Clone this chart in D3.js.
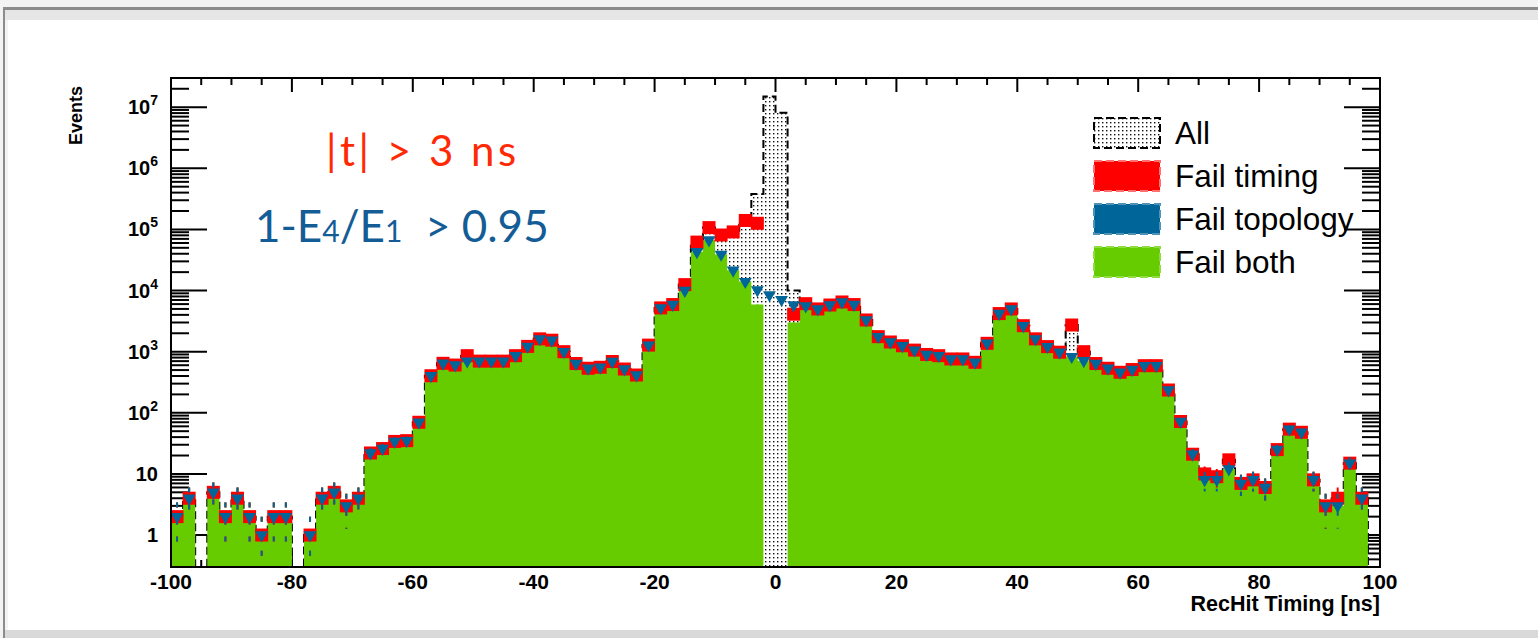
<!DOCTYPE html>
<html>
<head>
<meta charset="utf-8">
<script src="https://cdn.jsdelivr.net/npm/d3@7/dist/d3.min.js"></script>
<style>
    body { margin: 0; background: #ededed; }
    svg { display: block; }
</style>
</head>
<body>
<svg id="chart" width="1538" height="638"></svg>
<script>
// 2 ns bins, -100 .. 100 ns
const binLow = d3.range(-100, 100, 2);

const failTiming = [
    2, 4, 0, 5, 2, 4, 2, 1, 2, 2,
    0, 1, 4, 5, 3, 4, 22, 26, 34, 35,
    70, 404, 645, 604, 860, 700, 700, 700, 860, 1220,
    1620, 1540, 1000, 640, 535, 555, 690, 520, 415, 1280,
    5200, 5900, 12500, 62000, 107000, 81000, 91000, 140000, 126000, 0,
    0, 4100, 6100, 5000, 5800, 6500, 5900, 3300, 1760, 1440,
    1250, 1060, 900, 860, 760, 760, 670, 1370, 4200, 5000,
    2660, 1620, 1210, 980, 2730, 1000, 640, 535, 460, 510,
    590, 590, 236, 72, 21, 10, 9, 17, 7, 8,
    6, 25, 54, 48, 8, 3, 4, 15, 4, 0
];
const failTopology = [
    2, 4, 0, 5, 2, 4, 2, 1, 2, 2,
    0, 1, 4, 5, 3, 4, 22, 26, 34, 35,
    70, 404, 645, 604, 700, 700, 700, 700, 860, 1220,
    1620, 1540, 1000, 640, 535, 555, 690, 520, 415, 1280,
    5200, 5900, 10000, 43000, 67000, 39000, 21500, 14000, 10200, 8500,
    7100, 5800, 5600, 5000, 5800, 6500, 5900, 3300, 1760, 1440,
    1250, 1060, 900, 860, 760, 760, 670, 1370, 4200, 5000,
    2660, 1620, 1210, 980, 830, 710, 640, 535, 460, 510,
    590, 590, 236, 72, 21, 8, 8, 12, 7, 8,
    6, 25, 54, 48, 8, 3, 3, 15, 4, 0
];
const failBoth = [
    2, 4, 0, 5, 2, 4, 2, 1, 2, 2,
    0, 1, 4, 5, 3, 4, 22, 26, 34, 35,
    70, 404, 645, 604, 700, 700, 700, 700, 860, 1220,
    1620, 1540, 1000, 640, 535, 555, 690, 520, 415, 1280,
    5200, 5900, 10000, 43000, 67000, 39000, 21500, 14000, 5900, 0,
    0, 3000, 5600, 5000, 5800, 6500, 5900, 3300, 1760, 1440,
    1250, 1060, 900, 860, 760, 760, 670, 1370, 4200, 5000,
    2660, 1620, 1210, 980, 830, 710, 640, 535, 460, 510,
    590, 590, 236, 72, 21, 8, 8, 12, 7, 8,
    6, 25, 54, 48, 8, 3, 3, 15, 4, 0
];
const allHits = [
    2, 4, 0, 5, 2, 4, 2, 1, 2, 2,
    0, 1, 4, 5, 3, 4, 22, 26, 34, 35,
    70, 404, 645, 604, 860, 700, 700, 700, 860, 1220,
    1620, 1540, 1000, 640, 535, 555, 690, 520, 415, 1280,
    5200, 5900, 12500, 62000, 107000, 81000, 91000, 140000, 380000, 15000000,
    8100000, 10000, 6100, 5000, 5800, 6500, 5900, 3300, 1760, 1440,
    1250, 1060, 900, 860, 760, 760, 670, 1370, 4200, 5000,
    2660, 1620, 1210, 980, 2730, 1000, 640, 535, 460, 510,
    590, 590, 236, 72, 21, 10, 9, 17, 7, 8,
    6, 25, 54, 48, 8, 3, 4, 15, 4, 0
];

const xTickLabels = [-100, -80, -60, -40, -20, 0, 20, 40, 60, 80, 100];
const yTickExp = [0, 1, 2, 3, 4, 5, 6, 7];
const legendNames = ['All', 'Fail timing', 'Fail topology', 'Fail both'];

const RED = '#ff0000';
const BLUE = '#006699';
const GREEN = '#66cc00';

const svg = d3.select('#chart');

// window frame around the canvas
svg.append('rect').attr('x', 0).attr('y', 0).attr('width', 1538).attr('height', 638).attr('fill', '#f3f3f3');
svg.append('rect').attr('x', 3).attr('y', 7).attr('width', 1535).attr('height', 3).attr('fill', '#8c8c8c');
svg.append('rect').attr('x', 3).attr('y', 7).attr('width', 2).attr('height', 631).attr('fill', '#8c8c8c');
svg.append('rect').attr('x', 5).attr('y', 10).attr('width', 1533).attr('height', 10).attr('fill', '#e6e6e6');
svg.append('rect').attr('x', 5).attr('y', 630).attr('width', 1533).attr('height', 8).attr('fill', '#d9d9d9');
svg.append('rect').attr('x', 8).attr('y', 20).attr('width', 1530).attr('height', 610).attr('fill', '#ffffff');

const pLeft = 171, pRight = 1380, pTop = 78, pBottom = 567;

const x = d3.scaleLinear().domain([-100, 100]).range([pLeft, pRight]);
const y = d3.scaleLog().domain([0.3, 3e7]).range([pBottom, pTop]);

const defs = svg.append('defs');
const pat = defs.append('pattern')
    .attr('id', 'dots')
    .attr('width', 4)
    .attr('height', 4)
    .attr('patternUnits', 'userSpaceOnUse');
pat.append('rect').attr('width', 4).attr('height', 4).attr('fill', '#fff');
pat.append('rect').attr('x', 1).attr('y', 1).attr('width', 1.4).attr('height', 1.4).attr('fill', '#111');

defs.append('clipPath').attr('id', 'plotClip')
    .append('rect')
    .attr('x', pLeft).attr('y', pTop)
    .attr('width', pRight - pLeft).attr('height', pBottom - pTop);

// ---- ticks (drawn under the histograms, like ROOT)
const tickG = svg.append('g').attr('stroke', '#000').attr('stroke-width', 2);
const xMinor = d3.range(-100, 101, 5);
xMinor.forEach((t) => {
    const len = t % 20 === 0 ? 14 : 7;
    tickG.append('line').attr('x1', x(t)).attr('x2', x(t)).attr('y1', pBottom).attr('y2', pBottom - len);
    tickG.append('line').attr('x1', x(t)).attr('x2', x(t)).attr('y1', pTop).attr('y2', pTop + len);
});
const yMinor = [];
for (let e = -1; e <= 7; e++) {
    for (let m = 1; m <= 9; m++) {
        const v = m * Math.pow(10, e);
        if (v >= 0.3 && v <= 3e7) yMinor.push({ v: v, major: m === 1 });
    }
}
yMinor.forEach((d) => {
    const len = d.major ? 36 : 18;
    tickG.append('line').attr('x1', pLeft).attr('x2', pLeft + len).attr('y1', y(d.v)).attr('y2', y(d.v));
    tickG.append('line').attr('x1', pRight).attr('x2', pRight - len).attr('y1', y(d.v)).attr('y2', y(d.v));
});

// ---- histograms
const plot = svg.append('g').attr('clip-path', 'url(#plotClip)');

const stepPoints = (vals) => {
    const pts = [[-100, 0]];
    vals.forEach((v, i) => {
        pts.push([binLow[i], v]);
        pts.push([binLow[i] + 2, v]);
    });
    pts.push([100, 0]);
    return pts;
};
const yv = (v) => (v > 0 ? y(v) : pBottom + 2);

const area = d3.area()
    .x((d) => x(d[0]))
    .y0(pBottom + 2)
    .y1((d) => yv(d[1]));
const line = d3.line()
    .x((d) => x(d[0]))
    .y((d) => yv(d[1]));

plot.append('path')
    .attr('d', area(stepPoints(allHits)))
    .attr('fill', 'url(#dots)');
plot.append('path')
    .attr('d', line(stepPoints(allHits)))
    .attr('fill', 'none')
    .attr('stroke', '#000')
    .attr('stroke-width', 2)
    .attr('stroke-dasharray', '8,4');

plot.append('path')
    .attr('d', area(stepPoints(failBoth)))
    .attr('fill', GREEN);

const centres = binLow.map((b) => b + 1);

// poisson error bars, dashed
const errorBars = (vals, colour) => {
    plot.append('g')
        .selectAll('line')
        .data(vals.map((v, i) => ({ v: v, t: centres[i] })).filter((d) => d.v > 0))
        .join('line')
        .attr('x1', (d) => x(d.t))
        .attr('x2', (d) => x(d.t))
        .attr('y1', (d) => y(d.v + Math.sqrt(d.v)))
        .attr('y2', (d) => (d.v - Math.sqrt(d.v) > 0.3 ? y(d.v - Math.sqrt(d.v)) : pBottom))
        .attr('stroke', colour)
        .attr('stroke-width', 2)
        .attr('stroke-dasharray', '5,12');
};

errorBars(failBoth, GREEN);
errorBars(failTiming, RED);

plot.append('g')
    .selectAll('rect')
    .data(failTiming.map((v, i) => ({ v: v, t: centres[i] })).filter((d) => d.v > 0))
    .join('rect')
    .attr('x', (d) => x(d.t) - 6.5)
    .attr('y', (d) => y(d.v) - 6.5)
    .attr('width', 13)
    .attr('height', 13)
    .attr('fill', RED);

errorBars(failTopology, BLUE);

const tri = d3.symbol().type(d3.symbolTriangle).size(72);
plot.append('g')
    .selectAll('path')
    .data(failTopology.map((v, i) => ({ v: v, t: centres[i] })).filter((d) => d.v > 0))
    .join('path')
    .attr('d', tri)
    .attr('transform', (d) => `translate(${x(d.t)},${y(d.v)}) rotate(180)`)
    .attr('fill', BLUE);

// frame
svg.append('rect')
    .attr('x', pLeft).attr('y', pTop)
    .attr('width', pRight - pLeft).attr('height', pBottom - pTop)
    .attr('fill', 'none')
    .attr('stroke', '#000')
    .attr('stroke-width', 2);

// ---- axis labels
const labelFont = '"Liberation Sans", Arial, Helvetica, sans-serif';
svg.append('g')
    .selectAll('text')
    .data(xTickLabels)
    .join('text')
    .attr('x', (d) => x(d))
    .attr('y', 589)
    .attr('text-anchor', 'middle')
    .attr('font-family', labelFont)
    .attr('font-weight', 'bold')
    .attr('font-size', 21)
    .text((d) => d);

const yLab = svg.append('g')
    .selectAll('text')
    .data(yTickExp)
    .join('text')
    .attr('x', 158)
    .attr('y', (d) => y(Math.pow(10, d)) + 7)
    .attr('text-anchor', 'end')
    .attr('font-family', labelFont)
    .attr('font-weight', 'bold')
    .attr('font-size', 20);
yLab.each(function (d) {
    const t = d3.select(this);
    if (d === 0) t.text('1');
    else if (d === 1) t.text('10');
    else {
        t.append('tspan').text('10');
        t.append('tspan').attr('font-size', 14).attr('dy', -9).text(d);
    }
});

svg.append('text')
    .attr('x', pRight)
    .attr('y', 611)
    .attr('text-anchor', 'end')
    .attr('font-family', labelFont)
    .attr('font-weight', 'bold')
    .attr('font-size', 21.5)
    .text('RecHit Timing [ns]');

svg.append('text')
    .attr('transform', `translate(82,${pTop + 8}) rotate(-90)`)
    .attr('text-anchor', 'end')
    .attr('font-family', labelFont)
    .attr('font-weight', 'bold')
    .attr('font-size', 18)
    .text('Events');

// ---- legend
const legendFill = ['url(#dots)', RED, BLUE, GREEN];
const legendEdge = ['#000', '#ff7070', '#4d94b8', '#8fdd40'];
const leg = svg.append('g')
    .selectAll('g')
    .data(legendNames)
    .join('g')
    .attr('transform', (d, i) => `translate(1093,${117 + i * 43})`);
leg.append('rect')
    .attr('x', 1).attr('y', 1)
    .attr('width', 66).attr('height', 30)
    .attr('fill', (d, i) => legendFill[i])
    .attr('stroke', (d, i) => legendEdge[i])
    .attr('stroke-width', 2)
    .attr('stroke-dasharray', '8,4');
leg.append('text')
    .attr('x', 82)
    .attr('y', 27)
    .attr('font-family', labelFont)
    .attr('font-size', 31.5)
    .text((d) => d);

// ---- cut annotations
const noteFont = 'Lato, "Open Sans", sans-serif';
svg.append('text')
    .attr('x', 326)
    .attr('y', 166)
    .attr('font-family', noteFont)
    .attr('font-size', 42)
    .attr('letter-spacing', 3.5)
    .attr('fill', '#ff2a05')
    .text('|t| > 3 ns');

const cut2 = svg.append('text')
    .attr('x', 255)
    .attr('y', 242)
    .attr('font-family', noteFont)
    .attr('font-size', 44)
    .attr('fill', '#145c96');
cut2.append('tspan').text('1-E');
cut2.append('tspan').attr('font-size', 30).text('4');
cut2.append('tspan').text('/E');
cut2.append('tspan').attr('font-size', 30).text('1');
cut2.append('tspan').text('\u00a0 > 0.95');
</script>
</body>
</html>
